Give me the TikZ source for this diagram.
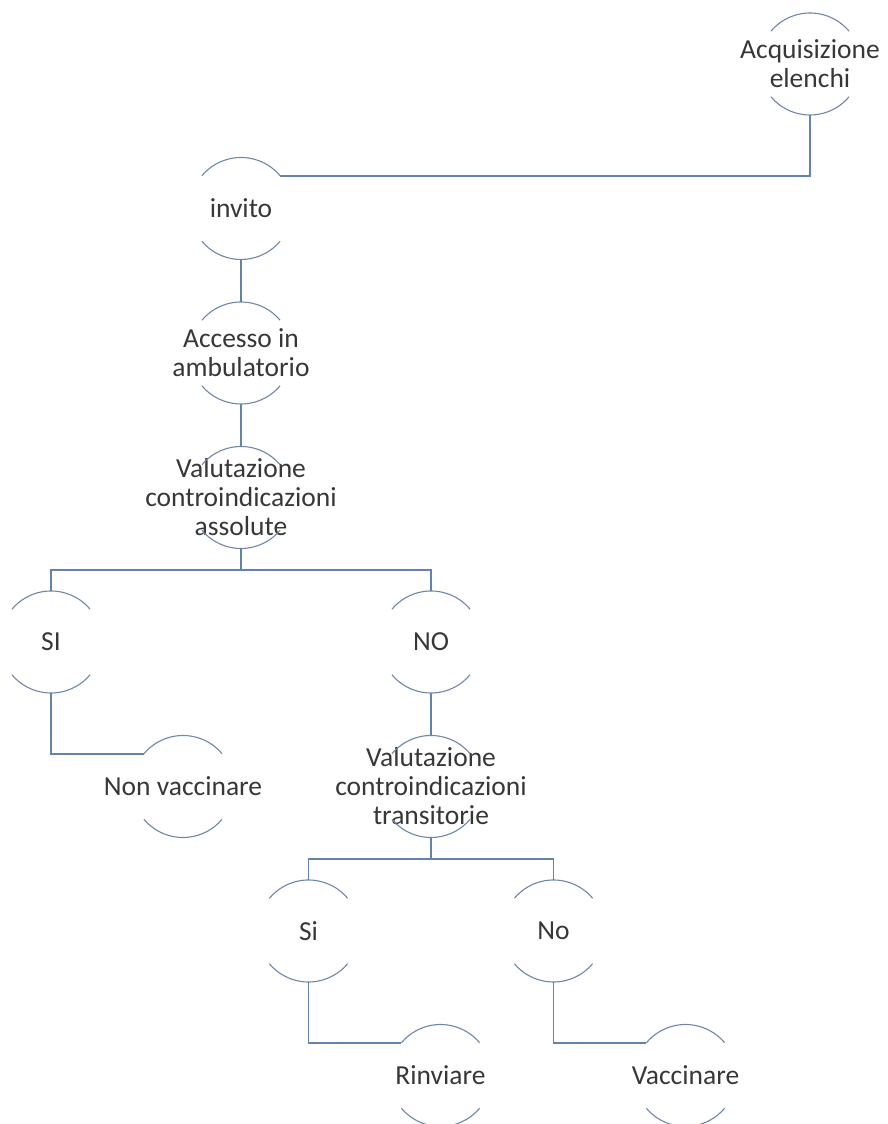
\documentclass[tikz,border=0pt]{standalone}
\usepackage{fontspec}
\setmainfont{Carlito}
\usetikzlibrary{positioning}
\usetikzlibrary{calc}
\definecolor{linkblue}{RGB}{99,131,173}
\definecolor{arcblue}{RGB}{112,134,166}
\definecolor{txtgray}{RGB}{55,55,55}

\begin{document}
\begin{tikzpicture}[
    x=1pt, y=1pt,
    node distance=144.5pt and 132pt,
    on grid,
    stepnode/.style={
        align=center,
        text=txtgray,
        inner sep=0pt,
        font=\fontsize{27.5}{29}\selectfont
    },
    link/.style={draw=linkblue, line width=1.6pt},
    rim/.style={draw=arcblue, line width=1.1pt}
]
\useasboundingbox (0,0) rectangle (887,1124);

\node[stepnode] (acq) at (810,1060) {Acquisizione\\elenchi};
\node[stepnode, below left=144.5pt and 569pt of acq] (invito) {invito};
\node[stepnode, below=of invito] (accesso) {Accesso in\\ambulatorio};
\node[stepnode, below=of accesso] (valA) {Valutazione\\controindicazioni\\assolute};
\node[stepnode, below left=144.5pt and 190pt of valA] (siA) {SI};
\node[stepnode, below right=144.5pt and 190pt of valA] (noA) {NO};
\node[stepnode, below right=of siA] (nonvacc) {Non vaccinare};
\node[stepnode, below=of noA] (valT) {Valutazione\\controindicazioni\\transitorie};
\node[stepnode, below left=144.5pt and 122.5pt of valT] (siT) {Si};
\node[stepnode, below right=144.5pt and 122.5pt of valT] (noT) {No};
\node[stepnode, below right=of siT] (rinv) {Rinviare};
\node[stepnode, below right=of noT] (vacc) {Vaccinare};

% open circles round every step
\foreach \n in {acq,invito,accesso,valA,siA,noA,nonvacc,valT,siT,noT,rinv,vacc} {
    \draw[rim] ($(\n)+(40:51)$) arc[start angle=40, end angle=140, radius=51pt];
    \draw[rim] ($(\n)+(220:51)$) arc[start angle=220, end angle=320, radius=51pt];
}

\draw[link] ($(acq)+(0,-51)$) |- ($(invito)+(40:51)$);
\draw[link] ($(invito)+(0,-51)$) -- ($(accesso)+(0,51)$);
\draw[link] ($(accesso)+(0,-51)$) -- ($(valA)+(0,51)$);

\draw[link] ($(valA)+(0,-51)$) -- ++(0,-21.5) coordinate (busA);
\draw[link] ($(siA)+(0,51)$) |- (busA) -| ($(noA)+(0,51)$);
\draw[link] ($(siA)+(0,-51)$) |- ($(nonvacc)+(140:51)$);
\draw[link] ($(noA)+(0,-51)$) -- ($(valT)+(0,51)$);

\draw[link] ($(valT)+(0,-51)$) -- ++(0,-21.5) coordinate (busT);
\draw[link] ($(siT)+(0,51)$) |- (busT) -| ($(noT)+(0,51)$);
\draw[link] ($(siT)+(0,-51)$) |- ($(rinv)+(140:51)$);
\draw[link] ($(noT)+(0,-51)$) |- ($(vacc)+(140:51)$);
\end{tikzpicture}
\end{document}
